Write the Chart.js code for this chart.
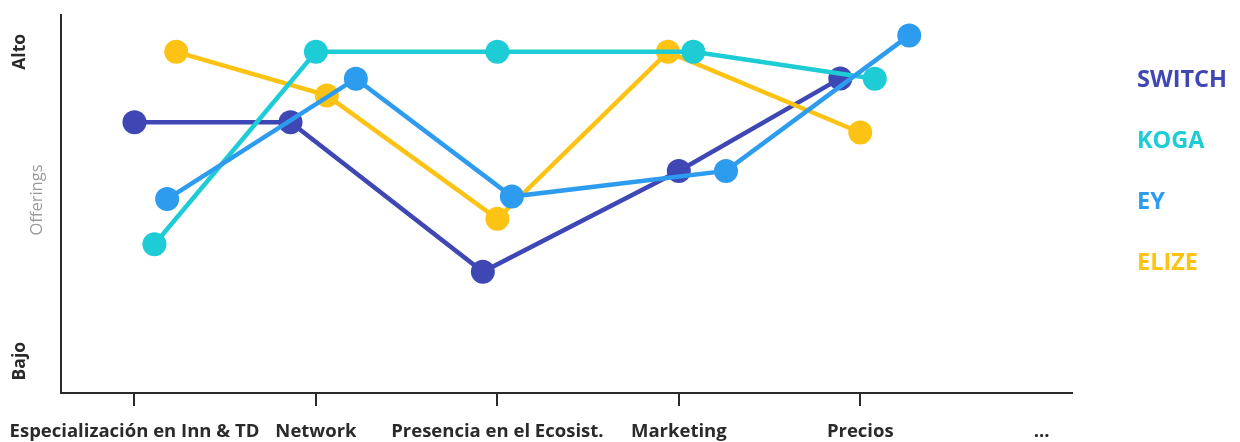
<!DOCTYPE html>
<html>
<head>
<meta charset="utf-8">
<script src="https://cdn.jsdelivr.net/npm/chart.js@4"></script>
<style>
  html, body { margin: 0; padding: 0; background: #fff; }
  #wrap { width: 1240px; height: 442px; position: relative; }
</style>
</head>
<body>
<div id="wrap"><canvas id="chart"></canvas></div>
<script>
// ── Data ───────────────────────────────────────────────────────────────────
const CATEGORIES = ['Especialización en Inn & TD', 'Network', 'Presencia en el Ecosist.', 'Marketing', 'Precios', '...'];
const Y_LABELS   = { high: 'Alto', low: 'Bajo', title: 'Offerings' };

const SERIES_NAMES  = ['SWITCH', 'KOGA', 'EY', 'ELIZE'];
const SERIES_COLORS = ['#3F47B5', '#1DCCD4', '#2E9CEE', '#FCC314'];

// x = category position (points are nudged off the tick), y = 0 (Bajo) .. 10 (Alto)
const SWITCH_X = [0.00, 0.86, 1.92, 3.00, 3.89];
const SWITCH_Y = [7.72, 7.72, 2.89, 6.15, 9.14];
const KOGA_X   = [0.11, 1.00, 2.00, 3.08, 4.08];
const KOGA_Y   = [3.78, 10.0, 10.0, 10.0, 9.13];
const EY_X     = [0.18, 1.22, 2.08, 3.26, 4.27];
const EY_Y     = [5.24, 9.13, 5.32, 6.15, 10.53];
const ELIZE_X  = [0.23, 1.06, 2.00, 2.94, 4.00];
const ELIZE_Y  = [10.0, 8.59, 4.60, 10.0, 7.39];

const SERIES_X = [SWITCH_X, KOGA_X, EY_X, ELIZE_X];
const SERIES_Y = [SWITCH_Y, KOGA_Y, EY_Y, ELIZE_Y];
const DRAW_ORDER = [3, 1, 0, 2];   // EY on top, SWITCH at the back

const FONT = '"Open Sans", "Noto Sans", sans-serif';
const INK  = '#2a2a2a';

// ── Side labels + legend ───────────────────────────────────────────────────
const sideText = {
  id: 'sideText',
  afterDraw(chart) {
    const { ctx, scales: { y } } = chart;
    ctx.save();
    ctx.textAlign = 'center';
    ctx.textBaseline = 'middle';

    const vText = (txt, x, py, font, color) => {
      ctx.save();
      ctx.translate(x, py);
      ctx.rotate(-Math.PI / 2);
      ctx.font = font;
      ctx.fillStyle = color;
      ctx.fillText(txt, 0, 0);
      ctx.restore();
    };
    vText(Y_LABELS.high, 20, y.getPixelForValue(10), `bold 17.5px ${FONT}`, INK);
    vText(Y_LABELS.low, 20, y.getPixelForValue(0), `bold 17.5px ${FONT}`, INK);
    vText(Y_LABELS.title, 37, 200, `16.5px ${FONT}`, '#9a9a9a');

    // legend
    ctx.textAlign = 'left';
    ctx.font = `bold 23.5px ${FONT}`;
    SERIES_NAMES.forEach((name, i) => {
      ctx.fillStyle = SERIES_COLORS[i];
      ctx.fillText(name, 1137, 80 + i * 61);
    });
    ctx.restore();
  }
};

// ── Chart ──────────────────────────────────────────────────────────────────
const datasets = SERIES_NAMES.map((name, i) => ({
  label: name,
  data: SERIES_X[i].map((x, j) => ({ x, y: SERIES_Y[i][j] })),
  borderColor: SERIES_COLORS[i],
  backgroundColor: SERIES_COLORS[i],
  pointBackgroundColor: SERIES_COLORS[i],
  borderWidth: 4.5,
  pointRadius: 12,
  pointBorderWidth: 0,
  tension: 0,
  order: DRAW_ORDER[i],
}));

new Chart(document.getElementById('chart'), {
  type: 'line',
  data: { datasets },
  plugins: [sideText],
  options: {
    responsive: true,
    maintainAspectRatio: false,
    animation: false,
    layout: { padding: { top: 15, right: 168, left: 0, bottom: 0 } },
    plugins: { legend: { display: false }, tooltip: { enabled: false } },
    scales: {
      x: {
        type: 'linear',
        min: -0.405,
        max: 5.167,
        afterBuildTicks: s => { s.ticks = CATEGORIES.map((_, i) => ({ value: i })); },
        afterFit: s => {
          s.height = 49;
          // long first label may overhang the y axis, like the original
          s.paddingLeft = 0;
          s.paddingRight = 0;
        },
        ticks: {
          autoSkip: false,
          minRotation: 0,
          maxRotation: 0,
          padding: 15,
          color: INK,
          font: { family: FONT, size: 18.5, weight: 'bold' },
          callback: v => CATEGORIES[v],
        },
        grid: {
          display: true,
          drawOnChartArea: false,
          drawTicks: true,
          tickLength: 13,
          // no tick mark under the trailing "..."
          color: c => (c.tick && c.tick.value === CATEGORIES.length - 1 ? 'rgba(0,0,0,0)' : INK),
          lineWidth: 2,
        },
        border: { display: true, color: INK, width: 2 },
      },
      y: {
        min: -1.03,
        max: 11.19,
        afterFit: s => { s.width = 61; },
        ticks: { display: false },
        grid: { display: false },
        border: { display: true, color: INK, width: 2 },
      },
    },
  },
});
</script>
</body>
</html>
